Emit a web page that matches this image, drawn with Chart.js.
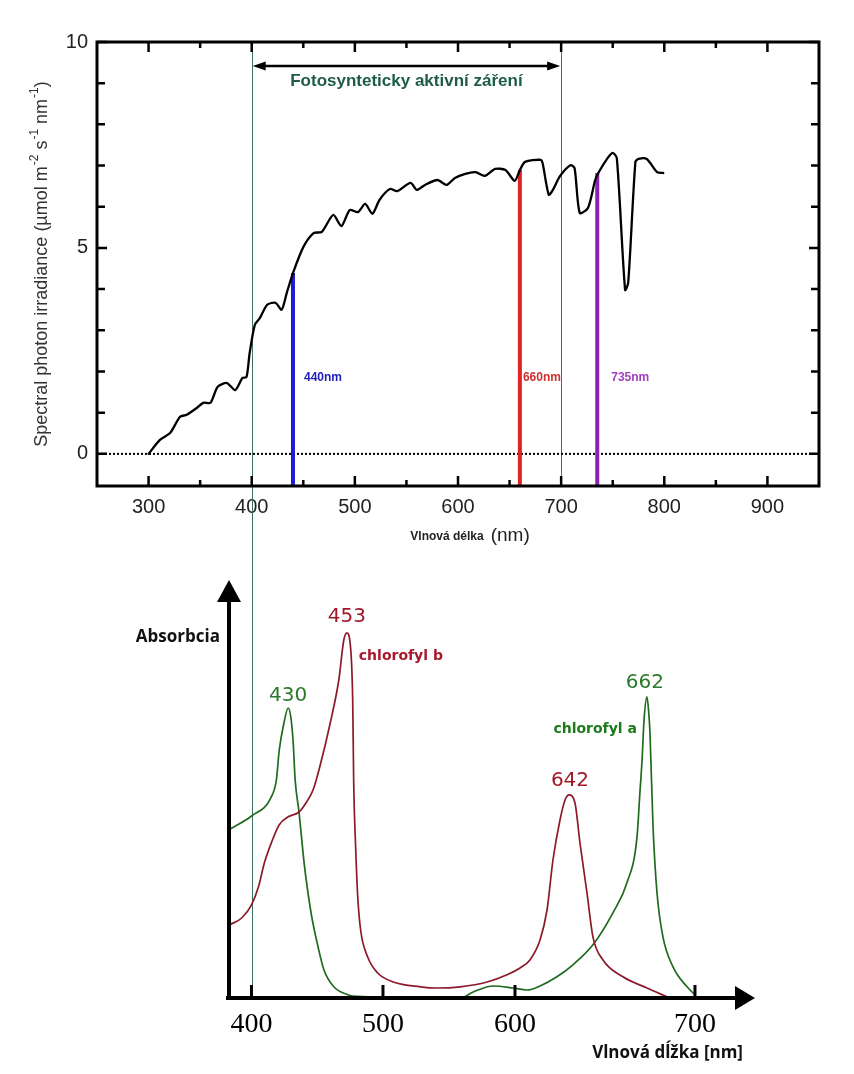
<!DOCTYPE html>
<html><head><meta charset="utf-8">
<script src="https://cdn.jsdelivr.net/npm/chart.js@4.4.0/dist/chart.umd.min.js"></script>
<style>
html,body{margin:0;padding:0;background:#fff;}
#wrap{position:relative;width:854px;height:1074px;overflow:hidden;background:#fff;}
canvas{position:absolute;left:0;}
#top{top:0;} #bot{top:560px;}
</style></head><body>
<div id="wrap"><canvas id="top" width="854" height="560"></canvas><canvas id="bot" width="854" height="514"></canvas></div>
<script>
// ================= DATA =================
// Top chart: spectral photon irradiance
const topXMin = 250, topXMax = 950, topYMin = -0.78, topYMax = 10;
const topXTicks = [300, 400, 500, 600, 700, 800, 900];
const topXMinorTicks = [350, 450, 550, 650, 750, 850];
const topYTicks = [0, 5, 10];
const topYMinorTicks = [1, 2, 3, 4, 6, 7, 8, 9];
const irrNm = [300,311,321,330.5,337,347,353,360,367,376,384,391,395,398,403,408,415,423,429,434,440,450,460,468,479,487,495,503,510,517,524,534,541,554,560,568,580,589,597,607,617,626,636,646,655,660,665,680,682,688,692,699,709,713,718,726,733,736,745,750,754,762,765,772,775,783,793,799];
const irrVal = [0,0.34,0.51,0.90,0.95,1.12,1.24,1.24,1.63,1.72,1.55,1.84,1.87,2.45,3.13,3.30,3.62,3.67,3.50,3.91,4.39,5.02,5.36,5.39,5.80,5.53,5.92,5.87,6.07,5.83,6.17,6.43,6.38,6.58,6.41,6.53,6.65,6.53,6.70,6.80,6.84,6.75,6.92,6.89,6.63,6.89,7.09,7.14,7.06,6.29,6.41,6.75,7.01,6.94,5.85,5.97,6.65,6.82,7.18,7.31,7.18,3.98,4.15,7.09,7.16,7.16,6.84,6.82];
const markerNm = [440, 660, 735];
const markerTop = [4.39, 6.89, 6.82];
const markerLabels = ['440nm', '660nm', '735nm'];
const parRange = [400, 700];
const parLabel = 'Fotosynteticky aktivní záření';
const parArrowLevel = 9.42;
const topYTitle = ['Spectral photon irradiance (µmol m', '-2', ' s', '-1', ' nm', '-1', ')'];
const topXTitleBold = 'Vlnová délka';
const topXTitleUnit = '(nm)';

// Bottom chart: absorption spectra
const botXTicks = [400, 500, 600, 700];
const chlANm = [384.2,400,415.1,418.9,421.1,424.5,427.9,430,431.7,433.2,436.2,440,445.3,450.6,455.1,462.6,473.2,477,558.5,568.3,583.4,598.5,606.7,613.9,623.3,632.2,643.3,654.4,662.2,667.8,669.4,670.6,671.7,673.3,674.4,675,676.7,678.9,682.2,687.8,695.6,700];
const chlAVal = [42.3,45.5,50.3,54.5,62,68.5,72.5,70,63.8,54.5,46.3,33.8,21.3,12.8,7,2.8,0.8,0.5,0,1.5,3,2.5,2,3,5.3,8.3,13.3,21.3,28.8,40.3,51.3,59.5,69.5,75.3,70.8,66.3,42.8,26.3,15.3,7.8,2.8,0.8];
const chlBNm = [383.4,392.5,400,405.3,409.8,415.1,421.1,427.9,436.2,441.5,446.8,451.3,460.4,466.4,470.2,472.5,475.5,477,477.7,479.2,480.8,483,488.3,495.8,507.9,528.3,541.1,558.5,578.9,594,602.8,608.3,613.9,617.8,621.1,625,627.8,630,633.3,636.1,640,643.3,648.9,660,673.3,684.4];
const chlBVal = [18.3,20,23.3,27.8,33.8,38.8,43.3,45.3,46.5,48.8,52,57,69.5,79.5,89.5,91.3,87,73.8,54.5,37.8,25.3,17,10.3,6.3,4,2.8,2.5,2.8,4,5.8,7.5,9.5,14.5,22,34.5,44.5,49.5,50.8,48.8,38.8,26.3,15.3,9.5,5.3,2.5,0.3];
const chlAPeakLabels = ['430', '662'];
const chlBPeakLabels = ['453', '642'];
const chlANameLabel = 'chlorofyl a';
const chlBNameLabel = 'chlorofyl b';
const botYTitle = 'Absorbcia';
const botXTitle = 'Vlnová dĺžka [nm]';

// ================= STYLE / LAYOUT =================
const STY = {
  parLine: '#3a7263', parText: '#1e5c48',
  markerColors: ['#1c1cd0', '#e02424', '#8a22b0'],
  markerTextColors: ['#2222b8', '#d03030', '#a040c0'],
  markerLabelDx: [11, 3, 14],
  chlA: '#1f6a1f', chlAText: '#2b7a2b', chlAName: '#1c7a1c',
  chlB: '#8c1a2a', chlBText: '#a01828', chlBName: '#a8182c',
  sans: 'Liberation Sans', serif: 'Liberation Serif', open: 'Open Sans', dv: 'DejaVu Sans'
};
// non-uniform drawn axis of the bottom chart: fraction of the plot width at each tick
const botTickFrac = [0.0445, 0.3043, 0.5652, 0.9209];

// ================= WARP SCALE (piecewise linear) =================
class WarpScale extends Chart.LinearScale {
  _frac(v) {
    const n = botXTicks.length;
    let i = 0;
    if (v >= botXTicks[n - 1]) i = n - 2;
    else while (i < n - 2 && v > botXTicks[i + 1]) i++;
    const v0 = botXTicks[i], v1 = botXTicks[i + 1], f0 = botTickFrac[i], f1 = botTickFrac[i + 1];
    return f0 + (v - v0) * (f1 - f0) / (v1 - v0);
  }
  getPixelForValue(v) { return this.getPixelForDecimal(this._frac(v)); }
  getValueForPixel(p) {
    const f = this.getDecimalForPixel(p), n = botXTicks.length;
    let i = 0;
    while (i < n - 2 && f > botTickFrac[i + 1]) i++;
    const v0 = botXTicks[i], v1 = botXTicks[i + 1], f0 = botTickFrac[i], f1 = botTickFrac[i + 1];
    return v0 + (f - f0) * (v1 - v0) / (f1 - f0);
  }
}
WarpScale.id = 'warp';
WarpScale.defaults = Chart.LinearScale.defaults;
Chart.register(WarpScale);

const pts = (xs, ys) => xs.map((x, i) => ({ x, y: ys[i] }));

// ================= TOP CHART =================
const topPlugin = {
  id: 'topDeco',
  beforeDatasetsDraw(chart) {
    const { ctx, chartArea: a, scales: { x } } = chart;
    ctx.save();
    ctx.strokeStyle = STY.parLine; ctx.lineWidth = 1;
    parRange.forEach((nm, i) => {
      const px = Math.round(x.getPixelForValue(nm)) + 0.5;
      ctx.beginPath(); ctx.moveTo(px, a.top); ctx.lineTo(px, i === 0 ? chart.height : a.bottom); ctx.stroke();
    });
    ctx.restore();
  },
  afterDatasetsDraw(chart) {
    const { ctx, chartArea: a, scales: { x, y } } = chart;
    ctx.save();
    // frame
    ctx.strokeStyle = '#000'; ctx.lineWidth = 3;
    ctx.strokeRect(a.left, a.top, a.right - a.left, a.bottom - a.top);
    // inward ticks
    ctx.lineWidth = 2.5;
    const vt = (v, len) => { const px = x.getPixelForValue(v);
      ctx.beginPath(); ctx.moveTo(px, a.bottom); ctx.lineTo(px, a.bottom - len);
      ctx.moveTo(px, a.top); ctx.lineTo(px, a.top + len); ctx.stroke(); };
    topXTicks.forEach(v => vt(v, 10)); topXMinorTicks.forEach(v => vt(v, 6));
    const ht = (v, len) => { const py = y.getPixelForValue(v);
      ctx.beginPath(); ctx.moveTo(a.left, py); ctx.lineTo(a.left + len, py);
      ctx.moveTo(a.right, py); ctx.lineTo(a.right - len, py); ctx.stroke(); };
    topYTicks.forEach(v => ht(v, 10)); topYMinorTicks.forEach(v => ht(v, 8));
    // PAR arrow
    const x0 = x.getPixelForValue(parRange[0]), x1 = x.getPixelForValue(parRange[1]);
    const ay = y.getPixelForValue(parArrowLevel);
    ctx.lineWidth = 2.5; ctx.strokeStyle = '#000'; ctx.fillStyle = '#000';
    ctx.beginPath(); ctx.moveTo(x0 + 8, ay); ctx.lineTo(x1 - 8, ay); ctx.stroke();
    ctx.beginPath(); ctx.moveTo(x0 + 1, ay); ctx.lineTo(x0 + 14, ay - 4.5); ctx.lineTo(x0 + 14, ay + 4.5); ctx.closePath(); ctx.fill();
    ctx.beginPath(); ctx.moveTo(x1 - 1, ay); ctx.lineTo(x1 - 14, ay - 4.5); ctx.lineTo(x1 - 14, ay + 4.5); ctx.closePath(); ctx.fill();
    ctx.fillStyle = STY.parText; ctx.font = 'bold 17px "' + STY.sans + '"';
    ctx.textAlign = 'center'; ctx.textBaseline = 'middle';
    ctx.fillText(parLabel, (x0 + x1) / 2, ay + 15);
    // marker labels
    ctx.font = 'bold 12px "' + STY.sans + '"'; ctx.textAlign = 'left';
    markerNm.forEach((nm, i) => {
      ctx.fillStyle = STY.markerTextColors[i];
      ctx.fillText(markerLabels[i], x.getPixelForValue(nm) + STY.markerLabelDx[i], 378);
    });
    // y title (rotated, with superscripts)
    ctx.fillStyle = '#333';
    ctx.translate(42, 264); ctx.rotate(-Math.PI / 2);
    const mainF = '18px "' + STY.sans + '"', supF = '12px "' + STY.sans + '"';
    let total = 0;
    topYTitle.forEach((s, i) => { ctx.font = i % 2 ? supF : mainF; total += ctx.measureText(s).width + (i % 2 ? 1 : 0); });
    let cx = -total / 2;
    ctx.textAlign = 'left';
    topYTitle.forEach((s, i) => {
      ctx.font = i % 2 ? supF : mainF;
      ctx.fillText(s, cx + (i % 2 ? 1 : 0), i % 2 ? -7 : 0);
      cx += ctx.measureText(s).width + (i % 2 ? 1 : 0);
    });
    ctx.restore();
    // x title
    ctx.save();
    ctx.fillStyle = '#222'; ctx.textBaseline = 'middle'; ctx.textAlign = 'left';
    const bF = 'bold 12px "' + STY.sans + '"', uF = '19px "' + STY.sans + '"';
    ctx.font = bF; const w1 = ctx.measureText(topXTitleBold).width;
    ctx.font = uF; const w2 = ctx.measureText(topXTitleUnit).width;
    const sx = 470 - (w1 + 7 + w2) / 2;
    ctx.font = bF; ctx.fillText(topXTitleBold, sx, 537);
    ctx.font = uF; ctx.fillText(topXTitleUnit, sx + w1 + 7, 536);
    ctx.restore();
  }
};

new Chart(document.getElementById('top'), {
  type: 'line',
  data: { datasets: [
    { data: pts(irrNm, irrVal), borderColor: '#000', borderWidth: 2.3, pointRadius: 0, tension: 0.25, borderJoinStyle: 'round', borderCapStyle: 'round' },
    ...markerNm.map((n, i) => ({ data: [{ x: n, y: topYMin }, { x: n, y: markerTop[i] }], borderColor: STY.markerColors[i], borderWidth: 4, pointRadius: 0 })),
    { data: [{ x: topXMin, y: 0 }, { x: topXMax, y: 0 }], borderColor: '#000', borderWidth: 2, borderDash: [2, 2], pointRadius: 0 }
  ] },
  options: {
    responsive: false, animation: false, devicePixelRatio: 1, events: [],
    layout: { padding: { left: 0, top: 42, right: 35, bottom: 0 } },
    plugins: { legend: { display: false }, tooltip: { enabled: false } },
    scales: {
      x: { type: 'linear', min: topXMin, max: topXMax,
        afterBuildTicks: s => { s.ticks = topXTicks.map(v => ({ value: v })); },
        afterFit: s => { s.height = 74; },
        grid: { display: false, drawTicks: false }, border: { display: false },
        ticks: { font: { family: STY.sans, size: 20 }, color: '#222', padding: 9, maxRotation: 0, autoSkip: false, callback: v => String(v) } },
      y: { min: topYMin, max: topYMax,
        afterBuildTicks: s => { s.ticks = topYTicks.map(v => ({ value: v })); },
        afterFit: s => { s.width = 97; },
        grid: { display: false, drawTicks: false }, border: { display: false },
        ticks: { font: { family: STY.sans, size: 20 }, color: '#222', padding: 9, autoSkip: false, callback: v => String(v) } }
    }
  },
  plugins: [topPlugin]
});

// ================= BOTTOM CHART =================
function peakIndex(xs, ys, lo, hi) {
  let best = -1;
  xs.forEach((x, i) => { if (x >= lo && x <= hi && (best < 0 || ys[i] > ys[best])) best = i; });
  return best;
}
const botPlugin = {
  id: 'botDeco',
  beforeDatasetsDraw(chart) {
    const { ctx, chartArea: a, scales: { x } } = chart;
    const px = Math.round(x.getPixelForValue(parRange[0])) + 0.5;
    ctx.save(); ctx.strokeStyle = STY.parLine; ctx.lineWidth = 1;
    ctx.beginPath(); ctx.moveTo(px, 0); ctx.lineTo(px, a.bottom); ctx.stroke(); ctx.restore();
  },
  afterDatasetsDraw(chart) {
    const { ctx, chartArea: a, scales: { x, y } } = chart;
    ctx.save();
    ctx.strokeStyle = '#000'; ctx.fillStyle = '#000'; ctx.lineWidth = 4;
    ctx.beginPath(); ctx.moveTo(a.left - 3, a.bottom); ctx.lineTo(a.right + 2, a.bottom); ctx.stroke();
    ctx.beginPath(); ctx.moveTo(a.right, a.bottom - 12); ctx.lineTo(a.right + 20, a.bottom); ctx.lineTo(a.right, a.bottom + 12); ctx.closePath(); ctx.fill();
    ctx.beginPath(); ctx.moveTo(a.left, a.bottom + 2); ctx.lineTo(a.left, a.top); ctx.stroke();
    ctx.beginPath(); ctx.moveTo(a.left - 12, a.top + 4); ctx.lineTo(a.left, a.top - 18); ctx.lineTo(a.left + 12, a.top + 4); ctx.closePath(); ctx.fill();
    ctx.lineWidth = 3;
    botXTicks.forEach(v => { const px = x.getPixelForValue(v);
      ctx.beginPath(); ctx.moveTo(px, a.bottom - 13); ctx.lineTo(px, a.bottom); ctx.stroke(); });
    // peak labels
    const pk = (xs, ys, lo, hi) => { const i = peakIndex(xs, ys, lo, hi); return { x: x.getPixelForValue(xs[i]), y: y.getPixelForValue(ys[i]) }; };
    const a1 = pk(chlANm, chlAVal, 380, 500), a2 = pk(chlANm, chlAVal, 600, 720);
    const b1 = pk(chlBNm, chlBVal, 380, 520), b2 = pk(chlBNm, chlBVal, 600, 720);
    ctx.font = '20px "' + STY.dv + '"'; ctx.textAlign = 'center'; ctx.textBaseline = 'alphabetic';
    ctx.fillStyle = STY.chlAText;
    ctx.fillText(chlAPeakLabels[0], a1.x, a1.y - 7);
    ctx.fillText(chlAPeakLabels[1], a2.x - 2, a2.y - 9);
    ctx.fillStyle = STY.chlBText;
    ctx.fillText(chlBPeakLabels[0], b1.x, b1.y - 11);
    ctx.fillText(chlBPeakLabels[1], b2.x + 1, b2.y - 9);
    ctx.font = 'bold 14px "' + STY.dv + '"'; ctx.textBaseline = 'middle';
    ctx.fillStyle = STY.chlBName; ctx.textAlign = 'left';
    ctx.fillText(chlBNameLabel, b1.x + 12, b1.y + 24);
    ctx.fillStyle = STY.chlAName; ctx.textAlign = 'right';
    ctx.fillText(chlANameLabel, a2.x - 10, a2.y + 33);
    // axis titles
    ctx.fillStyle = '#111'; ctx.font = 'bold 17px "' + STY.open + '"';
    ctx.textAlign = 'right';
    ctx.fillText(botYTitle, a.left - 9, 77);
    ctx.font = 'bold 17px "' + STY.open + '"';
    ctx.fillText(botXTitle, 743, 493);
    ctx.restore();
  }
};

new Chart(document.getElementById('bot'), {
  type: 'line',
  data: { datasets: [
    { data: pts(chlBNm, chlBVal), borderColor: STY.chlB, borderWidth: 1.7, pointRadius: 0, cubicInterpolationMode: 'monotone' },
    { data: pts(chlANm, chlAVal), borderColor: STY.chlA, borderWidth: 1.7, pointRadius: 0, cubicInterpolationMode: 'monotone' }
  ] },
  options: {
    responsive: false, animation: false, devicePixelRatio: 1, events: [],
    layout: { padding: { left: 229, top: 38, right: 119, bottom: 0 } },
    plugins: { legend: { display: false }, tooltip: { enabled: false } },
    scales: {
      x: { type: 'warp', min: 383, max: 722,
        afterBuildTicks: s => { s.ticks = botXTicks.map(v => ({ value: v })); },
        afterFit: s => { s.height = 76; },
        grid: { display: false, drawTicks: false }, border: { display: false },
        ticks: { font: { family: STY.serif, size: 28 }, color: '#000', padding: 10, maxRotation: 0, autoSkip: false, callback: v => String(v) } },
      y: { display: false, min: 0, max: 100 }
    }
  },
  plugins: [botPlugin]
});
</script></body></html>
